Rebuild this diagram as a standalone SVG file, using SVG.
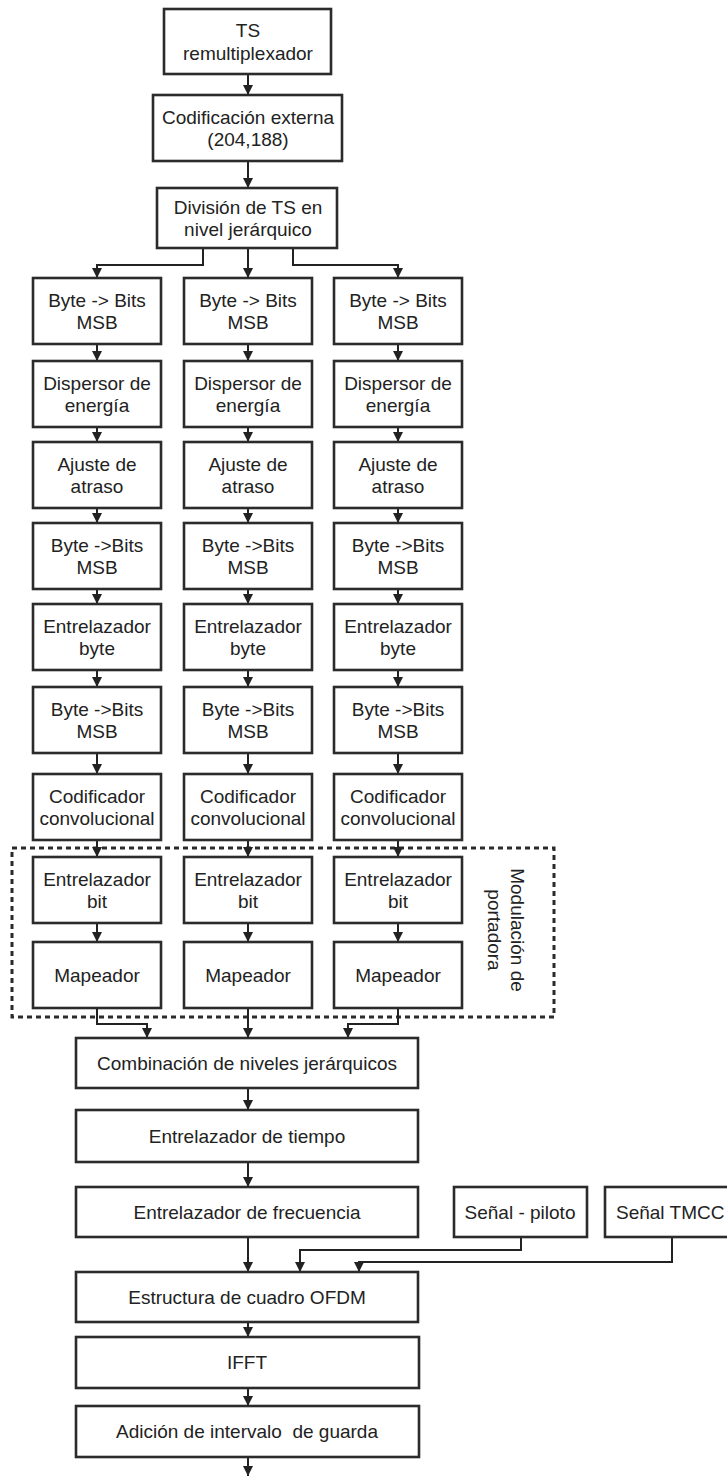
<svg xmlns="http://www.w3.org/2000/svg" width="727" height="1477" viewBox="0 0 727 1477">
<defs>
<marker id="ah" markerUnits="userSpaceOnUse" markerWidth="11" markerHeight="10" refX="10" refY="5" orient="auto">
<path d="M0,0 L10,5 L0,10 z" fill="#222"/>
</marker>
<style>
.box{fill:#fff;stroke:#2b2b2b;stroke-width:2.6}
.t{font-family:"Liberation Sans",Arial,sans-serif;font-size:19px;fill:#222;text-anchor:middle}
.c{fill:none;stroke:#222;stroke-width:2;marker-end:url(#ah)}
.l{fill:none;stroke:#222;stroke-width:2}
</style>
</defs>
<rect width="727" height="1477" fill="#fff"/>
<rect x="12" y="848" width="542" height="169" fill="none" stroke="#2b2b2b" stroke-width="3" stroke-dasharray="5 4"/>
<text class="t" transform="translate(518,930) rotate(90)" y="7">Modulación de</text>
<text class="t" transform="translate(495,930) rotate(90)" y="7">portadora</text>

<g id="connectors">
<path class="c" d="M248,74 V95"/>
<path class="c" d="M248,161 V188"/>
<path class="c" d="M248,248 V278"/>
<path class="c" d="M203,248 V265 H97 V278"/>
<path class="c" d="M293,248 V265 H398 V278"/>
<path class="c" d="M97,344 V361"/><path class="c" d="M248,344 V361"/><path class="c" d="M398,344 V361"/>
<path class="c" d="M97,427 V442"/><path class="c" d="M248,427 V442"/><path class="c" d="M398,427 V442"/>
<path class="c" d="M97,508 V523"/><path class="c" d="M248,508 V523"/><path class="c" d="M398,508 V523"/>
<path class="c" d="M97,589 V604"/><path class="c" d="M248,589 V604"/><path class="c" d="M398,589 V604"/>
<path class="c" d="M97,670 V687"/><path class="c" d="M248,670 V687"/><path class="c" d="M398,670 V687"/>
<path class="c" d="M97,753 V774"/><path class="c" d="M248,753 V774"/><path class="c" d="M398,753 V774"/>
<path class="c" d="M97,840 V857"/><path class="c" d="M248,840 V857"/><path class="c" d="M398,840 V857"/>
<path class="c" d="M97,923 V942"/><path class="c" d="M248,923 V942"/><path class="c" d="M398,923 V942"/>
<path class="c" d="M97,1008 V1024 H147 V1038"/>
<path class="c" d="M248,1008 V1038"/>
<path class="c" d="M398,1008 V1024 H348 V1038"/>
<path class="c" d="M248,1088 V1110"/>
<path class="c" d="M248,1162 V1187"/>
<path class="c" d="M248,1237 V1272"/>
<path class="c" d="M521,1237 V1250 H300 V1272"/>
<path class="c" d="M672,1237 V1262 H359 V1272"/>
<path class="c" d="M248,1322 V1337"/>
<path class="c" d="M248,1388 V1406"/>
<path class="c" d="M248,1457 V1476"/>
</g>

<g id="ts"><rect class="box" x="164" y="9" width="167" height="65"/><text class="t" x="248" y="37">TS</text><text class="t" x="248" y="60">remultiplexador</text></g>
<g id="codext"><rect class="box" x="153" y="95" width="189" height="66"/><text class="t" x="248" y="124">Codificación externa</text><text class="t" x="248" y="146">(204,188)</text></g>
<g id="division"><rect class="box" x="157" y="188" width="180" height="60"/><text class="t" x="248" y="214">División de TS en</text><text class="t" x="248" y="236">nivel jerárquico</text></g>

<g id="c1r1"><rect class="box" x="33" y="278" width="128" height="66"/><text class="t" x="97" y="307">Byte -&gt; Bits</text><text class="t" x="97" y="329">MSB</text></g>
<g id="c2r1"><rect class="box" x="184" y="278" width="128" height="66"/><text class="t" x="248" y="307">Byte -&gt; Bits</text><text class="t" x="248" y="329">MSB</text></g>
<g id="c3r1"><rect class="box" x="334" y="278" width="128" height="66"/><text class="t" x="398" y="307">Byte -&gt; Bits</text><text class="t" x="398" y="329">MSB</text></g>

<g id="c1r2"><rect class="box" x="33" y="361" width="128" height="66"/><text class="t" x="97" y="390">Dispersor de</text><text class="t" x="97" y="412">energía</text></g>
<g id="c2r2"><rect class="box" x="184" y="361" width="128" height="66"/><text class="t" x="248" y="390">Dispersor de</text><text class="t" x="248" y="412">energía</text></g>
<g id="c3r2"><rect class="box" x="334" y="361" width="128" height="66"/><text class="t" x="398" y="390">Dispersor de</text><text class="t" x="398" y="412">energía</text></g>

<g id="c1r3"><rect class="box" x="33" y="442" width="128" height="66"/><text class="t" x="97" y="471">Ajuste de</text><text class="t" x="97" y="493">atraso</text></g>
<g id="c2r3"><rect class="box" x="184" y="442" width="128" height="66"/><text class="t" x="248" y="471">Ajuste de</text><text class="t" x="248" y="493">atraso</text></g>
<g id="c3r3"><rect class="box" x="334" y="442" width="128" height="66"/><text class="t" x="398" y="471">Ajuste de</text><text class="t" x="398" y="493">atraso</text></g>

<g id="c1r4"><rect class="box" x="33" y="523" width="128" height="66"/><text class="t" x="97" y="552">Byte -&gt;Bits</text><text class="t" x="97" y="574">MSB</text></g>
<g id="c2r4"><rect class="box" x="184" y="523" width="128" height="66"/><text class="t" x="248" y="552">Byte -&gt;Bits</text><text class="t" x="248" y="574">MSB</text></g>
<g id="c3r4"><rect class="box" x="334" y="523" width="128" height="66"/><text class="t" x="398" y="552">Byte -&gt;Bits</text><text class="t" x="398" y="574">MSB</text></g>

<g id="c1r5"><rect class="box" x="33" y="604" width="128" height="66"/><text class="t" x="97" y="633">Entrelazador</text><text class="t" x="97" y="655">byte</text></g>
<g id="c2r5"><rect class="box" x="184" y="604" width="128" height="66"/><text class="t" x="248" y="633">Entrelazador</text><text class="t" x="248" y="655">byte</text></g>
<g id="c3r5"><rect class="box" x="334" y="604" width="128" height="66"/><text class="t" x="398" y="633">Entrelazador</text><text class="t" x="398" y="655">byte</text></g>

<g id="c1r6"><rect class="box" x="33" y="687" width="128" height="66"/><text class="t" x="97" y="716">Byte -&gt;Bits</text><text class="t" x="97" y="738">MSB</text></g>
<g id="c2r6"><rect class="box" x="184" y="687" width="128" height="66"/><text class="t" x="248" y="716">Byte -&gt;Bits</text><text class="t" x="248" y="738">MSB</text></g>
<g id="c3r6"><rect class="box" x="334" y="687" width="128" height="66"/><text class="t" x="398" y="716">Byte -&gt;Bits</text><text class="t" x="398" y="738">MSB</text></g>

<g id="c1r7"><rect class="box" x="33" y="774" width="128" height="66"/><text class="t" x="97" y="803">Codificador</text><text class="t" x="97" y="825">convolucional</text></g>
<g id="c2r7"><rect class="box" x="184" y="774" width="128" height="66"/><text class="t" x="248" y="803">Codificador</text><text class="t" x="248" y="825">convolucional</text></g>
<g id="c3r7"><rect class="box" x="334" y="774" width="128" height="66"/><text class="t" x="398" y="803">Codificador</text><text class="t" x="398" y="825">convolucional</text></g>

<g id="c1r8"><rect class="box" x="33" y="857" width="128" height="66"/><text class="t" x="97" y="886">Entrelazador</text><text class="t" x="97" y="908">bit</text></g>
<g id="c2r8"><rect class="box" x="184" y="857" width="128" height="66"/><text class="t" x="248" y="886">Entrelazador</text><text class="t" x="248" y="908">bit</text></g>
<g id="c3r8"><rect class="box" x="334" y="857" width="128" height="66"/><text class="t" x="398" y="886">Entrelazador</text><text class="t" x="398" y="908">bit</text></g>

<g id="c1r9"><rect class="box" x="33" y="942" width="128" height="66"/><text class="t" x="97" y="982">Mapeador</text></g>
<g id="c2r9"><rect class="box" x="184" y="942" width="128" height="66"/><text class="t" x="248" y="982">Mapeador</text></g>
<g id="c3r9"><rect class="box" x="334" y="942" width="128" height="66"/><text class="t" x="398" y="982">Mapeador</text></g>

<g id="combinacion"><rect class="box" x="76" y="1038" width="342" height="50"/><text class="t" x="247" y="1070">Combinación de niveles jerárquicos</text></g>
<g id="tiempo"><rect class="box" x="76" y="1110" width="342" height="52"/><text class="t" x="247" y="1143">Entrelazador de tiempo</text></g>
<g id="frecuencia"><rect class="box" x="76" y="1187" width="342" height="50"/><text class="t" x="247" y="1219">Entrelazador de frecuencia</text></g>
<g id="piloto"><rect class="box" x="454" y="1187" width="133" height="50"/><text class="t" x="520" y="1219">Señal - piloto</text></g>
<g id="tmcc"><rect class="box" x="605" y="1187" width="130" height="50"/><text class="t" x="616" y="1219" style="text-anchor:start">Señal TMCC</text></g>
<g id="ofdm"><rect class="box" x="76" y="1272" width="342" height="50"/><text class="t" x="247" y="1304">Estructura de cuadro OFDM</text></g>
<g id="ifft"><rect class="box" x="76" y="1337" width="343" height="51"/><text class="t" x="247" y="1369">IFFT</text></g>
<g id="guarda"><rect class="box" x="76" y="1406" width="343" height="51"/><text class="t" x="247" y="1438" xml:space="preserve">Adición de intervalo  de guarda</text></g>
</svg>
